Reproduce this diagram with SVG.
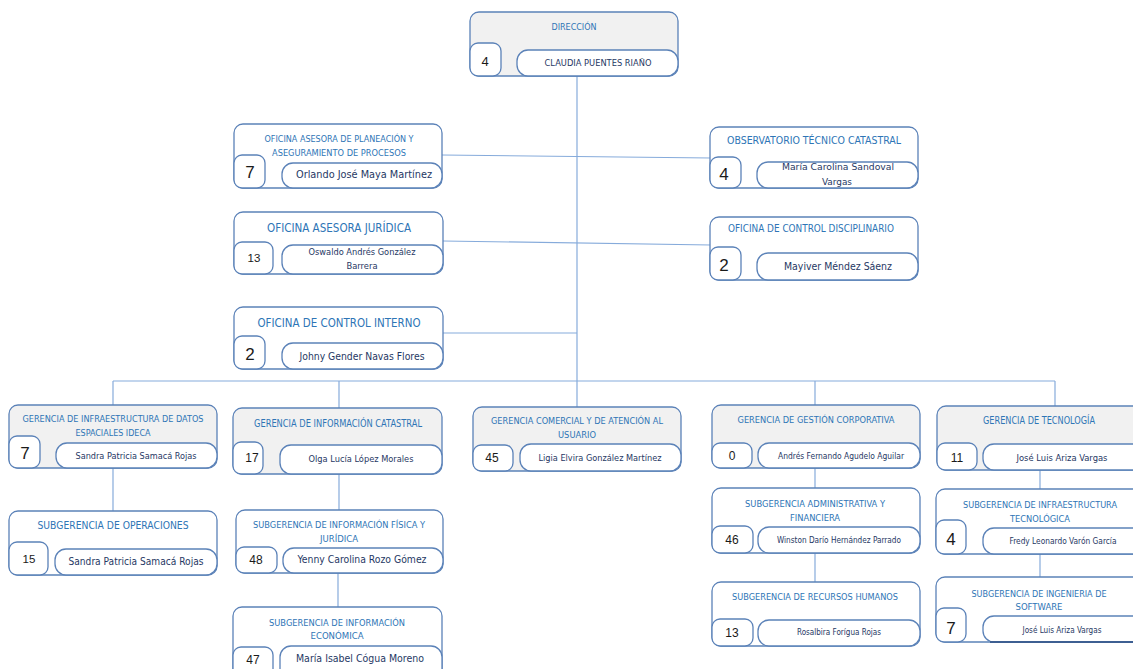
<svg xmlns="http://www.w3.org/2000/svg" width="1133" height="669" viewBox="0 0 1133 669">
<style>
.o{stroke:#5b82b8;stroke-width:1.3;fill:#fff}
.g{fill:#f1f1f1}
.i{stroke:#5b82b8;stroke-width:1.3;fill:#fff}
.c{stroke:#86abdb;stroke-width:1.2;fill:none}
text{font-family:"Liberation Sans Narrow","DejaVu Sans Condensed","Liberation Sans",sans-serif;text-anchor:middle}
.t{fill:#2e75b6}
.n{fill:#1f3864}
.k{fill:#1a1a1a;font-family:"Liberation Sans","DejaVu Sans",sans-serif}
</style>
<rect width="1133" height="669" fill="#fff"/>
<g id="connectors">
<line class="c" x1="577" y1="76" x2="577" y2="381"/>
<line class="c" x1="442" y1="155" x2="711" y2="158"/>
<line class="c" x1="443" y1="241" x2="711" y2="245"/>
<line class="c" x1="443" y1="333" x2="577" y2="333"/>
<line class="c" x1="113" y1="381" x2="1055" y2="381"/>
<line class="c" x1="113" y1="381" x2="113" y2="405"/>
<line class="c" x1="339" y1="381" x2="339" y2="408"/>
<line class="c" x1="577" y1="381" x2="577" y2="407"/>
<line class="c" x1="815" y1="381" x2="815" y2="405"/>
<line class="c" x1="1055" y1="381" x2="1055" y2="406"/>
<line class="c" x1="113" y1="468" x2="113" y2="511"/>
<line class="c" x1="339" y1="474" x2="339" y2="510"/>
<line class="c" x1="338" y1="573" x2="338" y2="607"/>
<line class="c" x1="815" y1="468" x2="815" y2="488"/>
<line class="c" x1="815" y1="553" x2="815" y2="582"/>
<line class="c" x1="1040" y1="470" x2="1040" y2="489"/>
<line class="c" x1="1040" y1="554" x2="1040" y2="577"/>
</g>
<g id="direccion">
<rect class="o g" x="470" y="12" width="208" height="64" rx="9"/>
<rect class="i" x="470" y="43" width="31" height="33" rx="8"/>
<rect class="i" x="517" y="50" width="161" height="26" rx="11"/>
<text class="t" x="574" y="30" font-size="9.5" textLength="45" lengthAdjust="spacingAndGlyphs">DIRECCIÓN</text>
<text class="k" x="485" y="66" font-size="13">4</text>
<text class="n" x="598" y="66" font-size="8.5" textLength="107" lengthAdjust="spacingAndGlyphs">CLAUDIA PUENTES RIAÑO</text>
</g>
<g id="planeacion">
<rect class="o" x="234" y="124" width="208" height="64" rx="9"/>
<rect class="i" x="234" y="155" width="31" height="33" rx="8"/>
<rect class="i" x="282" y="163" width="160" height="25" rx="11"/>
<text class="t" x="339" y="142" font-size="9" textLength="149" lengthAdjust="spacingAndGlyphs">OFICINA ASESORA DE PLANEACIÓN Y</text>
<text class="t" x="339" y="156" font-size="9" textLength="134" lengthAdjust="spacingAndGlyphs">ASEGURAMIENTO DE PROCESOS</text>
<text class="k" x="250" y="178" font-size="17">7</text>
<text class="n" x="364" y="178" font-size="10" textLength="136" lengthAdjust="spacingAndGlyphs">Orlando José Maya Martínez</text>
</g>
<g id="observatorio">
<rect class="o" x="710" y="127" width="208" height="61" rx="9"/>
<rect class="i" x="710" y="157" width="31" height="31" rx="8"/>
<rect class="i" x="757" y="162" width="161" height="26" rx="11"/>
<text class="t" x="814" y="144" font-size="10.5" textLength="174" lengthAdjust="spacingAndGlyphs">OBSERVATORIO TÉCNICO CATASTRAL</text>
<text class="k" x="724" y="180" font-size="17">4</text>
<text class="n" x="838" y="170" font-size="9.5" textLength="112" lengthAdjust="spacingAndGlyphs">María Carolina Sandoval</text>
<text class="n" x="837" y="185" font-size="9.5" textLength="30" lengthAdjust="spacingAndGlyphs">Vargas</text>
</g>
<g id="juridica">
<rect class="o" x="234" y="212" width="209" height="62" rx="9"/>
<rect class="i" x="234" y="242" width="39" height="32" rx="8"/>
<rect class="i" x="282" y="245" width="161" height="29" rx="11"/>
<text class="t" x="339" y="232" font-size="13" textLength="144" lengthAdjust="spacingAndGlyphs">OFICINA ASESORA JURÍDICA</text>
<text class="k" x="254" y="262" font-size="11.5">13</text>
<text class="n" x="362" y="255" font-size="9" textLength="107" lengthAdjust="spacingAndGlyphs">Oswaldo Andrés González</text>
<text class="n" x="362" y="269" font-size="9" textLength="31" lengthAdjust="spacingAndGlyphs">Barrera</text>
</g>
<g id="control-interno">
<rect class="o" x="234" y="307" width="209" height="62" rx="9"/>
<rect class="i" x="234" y="336" width="31" height="33" rx="8"/>
<rect class="i" x="282" y="343" width="161" height="26" rx="11"/>
<text class="t" x="339" y="327" font-size="13" textLength="163" lengthAdjust="spacingAndGlyphs">OFICINA DE CONTROL INTERNO</text>
<text class="k" x="250" y="360" font-size="17">2</text>
<text class="n" x="362" y="360" font-size="10.5" textLength="125" lengthAdjust="spacingAndGlyphs">Johny Gender Navas Flores</text>
</g>
<g id="control-disciplinario">
<rect class="o" x="710" y="217" width="208" height="63" rx="9"/>
<rect class="i" x="710" y="247" width="31" height="33" rx="8"/>
<rect class="i" x="757" y="253" width="161" height="27" rx="11"/>
<text class="t" x="811" y="232" font-size="10.5" textLength="166" lengthAdjust="spacingAndGlyphs">OFICINA DE CONTROL DISCIPLINARIO</text>
<text class="k" x="724" y="271" font-size="17">2</text>
<text class="n" x="838" y="270" font-size="10" textLength="108" lengthAdjust="spacingAndGlyphs">Mayiver Méndez Sáenz</text>
</g>
<g id="gerencia-ideca">
<rect class="o g" x="9" y="405" width="208" height="63" rx="9"/>
<rect class="i" x="9" y="436" width="31" height="32" rx="8"/>
<rect class="i" x="56" y="443" width="161" height="25" rx="11"/>
<text class="t" x="113" y="422" font-size="9.5" textLength="181" lengthAdjust="spacingAndGlyphs">GERENCIA DE INFRAESTRUCTURA DE DATOS</text>
<text class="t" x="113" y="436" font-size="9.5" textLength="75" lengthAdjust="spacingAndGlyphs">ESPACIALES IDECA</text>
<text class="k" x="25" y="459" font-size="17">7</text>
<text class="n" x="136" y="459" font-size="9" textLength="121" lengthAdjust="spacingAndGlyphs">Sandra Patricia Samacá Rojas</text>
</g>
<g id="gerencia-catastral">
<rect class="o g" x="233" y="408" width="209" height="66" rx="9"/>
<rect class="i" x="233" y="442" width="30" height="32" rx="8"/>
<rect class="i" x="280" y="445" width="162" height="29" rx="11"/>
<text class="t" x="338" y="427" font-size="10" textLength="168" lengthAdjust="spacingAndGlyphs">GERENCIA DE INFORMACIÓN CATASTRAL</text>
<text class="k" x="252" y="462" font-size="12">17</text>
<text class="n" x="361" y="462" font-size="9.5" textLength="105" lengthAdjust="spacingAndGlyphs">Olga Lucía López Morales</text>
</g>
<g id="gerencia-comercial">
<rect class="o g" x="473" y="407" width="208" height="64" rx="9"/>
<rect class="i" x="473" y="445" width="40" height="26" rx="8"/>
<rect class="i" x="520" y="444" width="161" height="27" rx="11"/>
<text class="t" x="577" y="424" font-size="9.5" textLength="172" lengthAdjust="spacingAndGlyphs">GERENCIA COMERCIAL Y DE ATENCIÓN AL</text>
<text class="t" x="577" y="438" font-size="9.5" textLength="38" lengthAdjust="spacingAndGlyphs">USUARIO</text>
<text class="k" x="492" y="462" font-size="12">45</text>
<text class="n" x="600" y="461" font-size="9" textLength="123" lengthAdjust="spacingAndGlyphs">Ligia Elvira González Martínez</text>
</g>
<g id="gerencia-corporativa">
<rect class="o g" x="712" y="405" width="208" height="63" rx="9"/>
<rect class="i" x="712" y="443" width="40" height="25" rx="8"/>
<rect class="i" x="758" y="443" width="162" height="25" rx="11"/>
<text class="t" x="816" y="423" font-size="9.5" textLength="157" lengthAdjust="spacingAndGlyphs">GERENCIA DE GESTIÓN CORPORATIVA</text>
<text class="k" x="732" y="460" font-size="12">0</text>
<text class="n" x="841" y="459" font-size="8" textLength="126" lengthAdjust="spacingAndGlyphs">Andrés Fernando Agudelo Aguilar</text>
</g>
<g id="gerencia-tecnologia">
<rect class="o g" x="937" y="406" width="210" height="64" rx="9"/>
<rect class="i" x="937" y="443" width="40" height="27" rx="8"/>
<rect class="i" x="983" y="444" width="164" height="26" rx="11"/>
<text class="t" x="1039" y="424" font-size="10" textLength="112" lengthAdjust="spacingAndGlyphs">GERENCIA DE TECNOLOGÍA</text>
<text class="k" x="957" y="462" font-size="12">11</text>
<text class="n" x="1062" y="461" font-size="8.5" textLength="91" lengthAdjust="spacingAndGlyphs">José Luis Ariza Vargas</text>
</g>
<g id="subgerencia-operaciones">
<rect class="o" x="9" y="511" width="208" height="64" rx="9"/>
<rect class="i" x="9" y="542" width="39" height="33" rx="8"/>
<rect class="i" x="55" y="549" width="162" height="26" rx="11"/>
<text class="t" x="113" y="529" font-size="11" textLength="151" lengthAdjust="spacingAndGlyphs">SUBGERENCIA DE OPERACIONES</text>
<text class="k" x="29" y="563" font-size="11.5">15</text>
<text class="n" x="136" y="565" font-size="10" textLength="135" lengthAdjust="spacingAndGlyphs">Sandra Patricia Samacá Rojas</text>
</g>
<g id="subgerencia-fisica">
<rect class="o" x="236" y="510" width="207" height="63" rx="9"/>
<rect class="i" x="236" y="547" width="41" height="26" rx="8"/>
<rect class="i" x="283" y="548" width="160" height="25" rx="11"/>
<text class="t" x="339" y="528" font-size="9.5" textLength="172" lengthAdjust="spacingAndGlyphs">SUBGERENCIA DE INFORMACIÓN FÍSICA Y</text>
<text class="t" x="339" y="542" font-size="9.5" textLength="38" lengthAdjust="spacingAndGlyphs">JURÍDICA</text>
<text class="k" x="256" y="564" font-size="12">48</text>
<text class="n" x="362" y="563" font-size="10" textLength="129" lengthAdjust="spacingAndGlyphs">Yenny Carolina Rozo Gómez</text>
</g>
<g id="subgerencia-economica">
<rect class="o" x="233" y="607" width="209" height="80" rx="9"/>
<rect class="i" x="233" y="647" width="40" height="40" rx="8"/>
<rect class="i" x="280" y="646" width="162" height="40" rx="11"/>
<text class="t" x="337" y="626" font-size="9.5" textLength="136" lengthAdjust="spacingAndGlyphs">SUBGERENCIA DE INFORMACIÓN</text>
<text class="t" x="337" y="639" font-size="9.5" textLength="53" lengthAdjust="spacingAndGlyphs">ECONÓMICA</text>
<text class="k" x="253" y="664" font-size="12">47</text>
<text class="n" x="360" y="662" font-size="10" textLength="128" lengthAdjust="spacingAndGlyphs">María Isabel Cógua Moreno</text>
</g>
<g id="subgerencia-administrativa">
<rect class="o" x="712" y="488" width="208" height="65" rx="9"/>
<rect class="i" x="712" y="526" width="41" height="27" rx="8"/>
<rect class="i" x="758" y="527" width="162" height="26" rx="11"/>
<text class="t" x="815" y="507" font-size="9.5" textLength="140" lengthAdjust="spacingAndGlyphs">SUBGERENCIA ADMINISTRATIVA Y</text>
<text class="t" x="815" y="521" font-size="9.5" textLength="50" lengthAdjust="spacingAndGlyphs">FINANCIERA</text>
<text class="k" x="732" y="544" font-size="12">46</text>
<text class="n" x="839" y="543" font-size="8" textLength="124" lengthAdjust="spacingAndGlyphs">Winston Darío Hernández Parrado</text>
</g>
<g id="subgerencia-rrhh">
<rect class="o" x="712" y="582" width="208" height="64" rx="9"/>
<rect class="i" x="712" y="619" width="41" height="27" rx="8"/>
<rect class="i" x="758" y="620" width="162" height="26" rx="11"/>
<text class="t" x="815" y="600" font-size="9.5" textLength="166" lengthAdjust="spacingAndGlyphs">SUBGERENCIA DE RECURSOS HUMANOS</text>
<text class="k" x="732" y="637" font-size="12">13</text>
<text class="n" x="839" y="635" font-size="8.5" textLength="84" lengthAdjust="spacingAndGlyphs">Rosalbira Forígua Rojas</text>
</g>
<g id="subgerencia-infra-tecnologica">
<rect class="o" x="936" y="489" width="210" height="65" rx="9"/>
<rect class="i" x="936" y="520" width="30" height="34" rx="8"/>
<rect class="i" x="983" y="528" width="163" height="26" rx="11"/>
<text class="t" x="1040" y="508" font-size="9.5" textLength="154" lengthAdjust="spacingAndGlyphs">SUBGERENCIA DE INFRAESTRUCTURA</text>
<text class="t" x="1040" y="522" font-size="9.5" textLength="60" lengthAdjust="spacingAndGlyphs">TECNOLÓGICA</text>
<text class="k" x="951" y="545" font-size="17">4</text>
<text class="n" x="1063" y="544" font-size="8.5" textLength="107" lengthAdjust="spacingAndGlyphs">Fredy Leonardo Varón García</text>
</g>
<g id="subgerencia-software">
<rect class="o" x="936" y="577" width="210" height="65" rx="9"/>
<rect class="i" x="936" y="608" width="30" height="34" rx="8"/>
<rect class="i" x="983" y="616" width="163" height="26" rx="11"/>
<line x1="990" y1="642" x2="1140" y2="642" stroke="#3d5f92" stroke-width="2"/>
<text class="t" x="1039" y="597" font-size="9.5" textLength="135" lengthAdjust="spacingAndGlyphs">SUBGERENCIA DE INGENIERIA DE</text>
<text class="t" x="1039" y="610" font-size="9.5" textLength="47" lengthAdjust="spacingAndGlyphs">SOFTWARE</text>
<text class="k" x="951" y="634" font-size="17">7</text>
<text class="n" x="1062" y="633" font-size="8" textLength="79" lengthAdjust="spacingAndGlyphs">José Luis Ariza Vargas</text>
</g>
</svg>
